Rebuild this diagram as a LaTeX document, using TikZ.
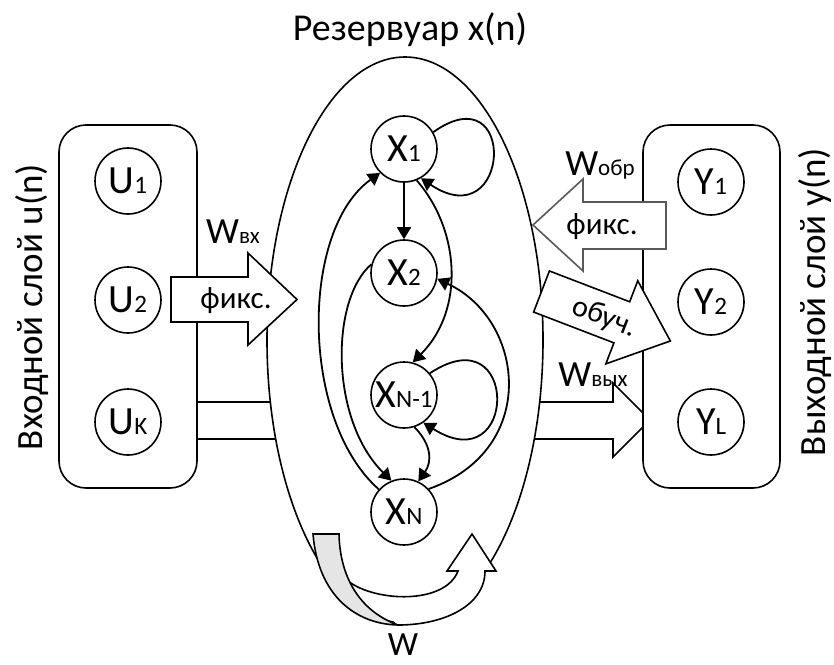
\documentclass[tikz,border=0pt]{standalone}
\usepackage{fontspec}
\setmainfont{Carlito}
\usetikzlibrary{arrows.meta}
\newcommand\nm[2]{{\fontsize{40}{40}\selectfont #1}{\fontsize{25}{25}\selectfont #2}}
\newcommand\wl[1]{{\fontsize{37}{37}\selectfont W}{\fontsize{23}{23}\selectfont #1}}
\begin{document}
\begin{tikzpicture}[x=1pt,y=-1pt,line width=1.8pt,
  neuron/.style={circle,draw,fill=white,minimum size=66pt,inner sep=0pt,line width=1.6pt},
  layerbox/.style={draw,fill=white,rounded corners=27pt,minimum width=138pt,minimum height=363pt,line width=1.6pt},
  blockarrow/.style={draw,fill=white,line width=1.6pt,line join=miter},
  conn/.style={-{Triangle[length=12pt,width=14pt]},line width=1.8pt},
  lbl/.style={inner sep=0pt,anchor=base}]
\useasboundingbox (0,0) rectangle (834,664);

% long input->output arrow (mostly hidden)
\draw[blockarrow] (150,402) -- (613,402) -- (613,383) -- (650,420) -- (613,457) -- (613,439) -- (150,439) -- cycle;

% reservoir
\draw[fill=white,line width=1.6pt] (405,340) ellipse [x radius=138pt, y radius=283pt];
\node[lbl] (title) at (410,40) {\fontsize{38}{38}\selectfont Резервуар x(n)};

% layer boxes
\node[layerbox] (inbox) at (128,306.5) {};
\node[layerbox,minimum width=137pt] (outbox) at (711.5,306.5) {};

% bottom curved arrow W
\fill[white] (348,581) .. controls (375,602) and (445,605) .. (458,571) -- (447,571) -- (472,534) -- (496,571) -- (485,571)
  .. controls (485,605) and (445,625) .. (398,625) -- cycle;
\draw[line width=1.6pt,line join=miter] (348,581) .. controls (375,602) and (445,605) .. (458,571) -- (447,571) -- (472,534) -- (496,571) -- (485,571)
  .. controls (485,605) and (445,625) .. (398,625);
\filldraw[fill=black!10,line width=1.6pt] (313,534) -- (339,534) .. controls (340,580) and (362,612) .. (398,625)
  .. controls (355,624) and (318,595) .. (313,534) -- cycle;
\node[lbl] (wlab) at (403,655) {\fontsize{34}{34}\selectfont W};

% input arrow
\draw[blockarrow] (171,277) -- (248,277) -- (248,253) -- (297,299.5) -- (248,345) -- (248,322) -- (171,322) -- cycle;
\node[inner sep=0pt] (fin) at (236,301) {\fontsize{31}{31}\selectfont фикс.};
\node[lbl] (wvx) at (233,243) {\wl{вх}};

% feedback arrow
\draw[blockarrow,draw=black!65] (666,202) -- (583,202) -- (583,179) -- (533,225) -- (583,271) -- (583,249) -- (666,249) -- cycle;
\node[inner sep=0pt] (fback) at (602,227) {\fontsize{31}{31}\selectfont фикс.};
\node[lbl] (wobr) at (600,175) {\wl{обр}};

% trained output arrow
\begin{scope}[shift={(541.5,291.5)},rotate=-21]
\draw[blockarrow] (0,-22) -- (86,-22) -- (86,-44.5) -- (138,0) -- (86,44.5) -- (86,22) -- (0,22) -- cycle;
\node[inner sep=0pt,rotate=-21] (tr) at (68,2) {\fontsize{30}{30}\selectfont обуч.};
\end{scope}
\node[lbl] (wvyh) at (593,386) {\wl{вых}};

% neurons
\node[neuron] (U1) at (128,181) {\nm{U}{1}};
\node[neuron] (U2) at (128,300) {\nm{U}{2}};
\node[neuron] (UK) at (128,422) {\nm{U}{K}};
\node[neuron] (Y1) at (711,182) {\nm{Y}{1}};
\node[neuron] (Y2) at (711,302) {\nm{Y}{2}};
\node[neuron] (YL) at (711,422) {\nm{Y}{L}};
\node[neuron] (X1) at (404,149) {\nm{X}{1}};
\node[neuron] (X2) at (404,273) {\nm{X}{2}};
\node[neuron] (XN1) at (404,395) {\nm{X}{N-1}};
\node[neuron] (XN) at (404,512) {\nm{X}{N}};

% reservoir connections
\draw[conn] (X1) -- (X2);
\draw[conn] (X1.30) .. controls +(85,-60) and +(90,60) .. (X1.-60);
\draw[conn] (XN1.40) .. controls +(90,-60) and +(95,60) .. (XN1.-55);
\draw[conn] (X1.-68) .. controls (460,230) and (465,310) .. (XN1.75);
\draw[conn] (XN.43) .. controls (540,450) and (525,320) .. (X2.-10);
\draw[conn] (XN.138) .. controls (300,420) and (300,230) .. (X1.-135);
\draw[conn] (X2.165) .. controls (330,300) and (330,420) .. (XN.112);
\draw[conn] (XN1.-72) .. controls (432,445) and (432,462) .. (XN.65);

% layer labels
\node[rotate=90,inner sep=0pt] (inlab) at (32,307) {\fontsize{37}{37}\selectfont Входной слой u(n)};
\node[rotate=90,inner sep=0pt] (outlab) at (815,302) {\fontsize{37}{37}\selectfont Выходной слой y(n)};
\end{tikzpicture}
\end{document}
